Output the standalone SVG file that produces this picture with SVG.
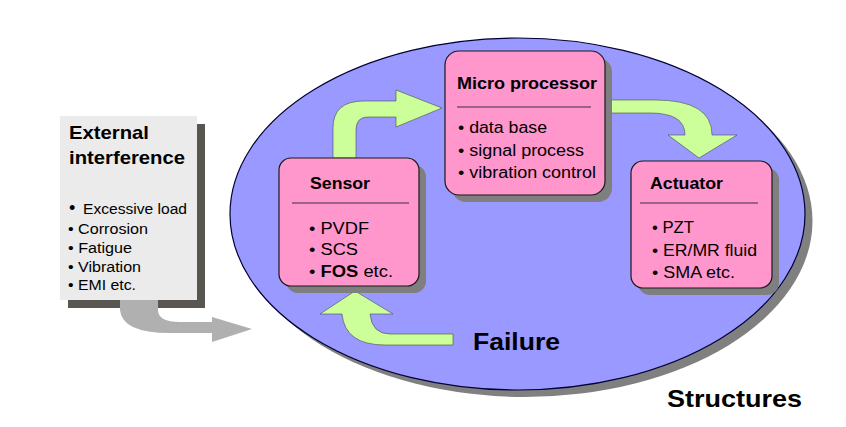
<svg xmlns="http://www.w3.org/2000/svg" width="846" height="427" viewBox="0 0 846 427">
<style>
text{font-family:"Liberation Sans",Arial,sans-serif;fill:#000;}
.t{font-weight:bold;font-size:16px;}
.b{font-size:16px;}
.eb{font-size:14px;}
.et{font-weight:bold;font-size:18.5px;}
.big{font-weight:bold;font-size:24px;}
.box{fill:#ff96cc;stroke:#1a1a1a;stroke-width:1.2;}
.sh{fill:#7f7f7f;}
.div{stroke:#333;stroke-width:1;}
.garr{fill:#ccff99;stroke:#4a4a4a;stroke-width:0.6;}
</style>
<rect width="846" height="427" fill="#fff"/>
<g id="structures">
<ellipse cx="525" cy="221" rx="287.5" ry="176" fill="#808080"/>
<ellipse cx="517.5" cy="214" rx="287.5" ry="176" fill="#9999ff" stroke="#000033" stroke-width="1.2"/>
<text class="big" x="667" y="407" textLength="135" lengthAdjust="spacingAndGlyphs">Structures</text>
</g>
<g id="external">
<rect x="68" y="124" width="137" height="184" fill="#595550"/>
<rect x="60" y="116" width="137" height="184" fill="#ebebeb"/>
<text class="et" x="69" y="139" textLength="80" lengthAdjust="spacingAndGlyphs">External</text>
<text class="et" x="69" y="164" textLength="116" lengthAdjust="spacingAndGlyphs">interference</text>
<text class="eb" x="69" y="214"><tspan font-size="18">•</tspan><tspan x="83" textLength="104" lengthAdjust="spacingAndGlyphs">Excessive load</tspan></text>
<text class="eb" x="68" y="234" textLength="80" lengthAdjust="spacingAndGlyphs">• Corrosion</text>
<text class="eb" x="68" y="253" textLength="64" lengthAdjust="spacingAndGlyphs">• Fatigue</text>
<text class="eb" x="68" y="272" textLength="73" lengthAdjust="spacingAndGlyphs">• Vibration</text>
<text class="eb" x="68" y="290" textLength="68" lengthAdjust="spacingAndGlyphs">• EMI etc.</text>
</g>
<g id="connectors">
<path d="M120,300 L120,310 Q122,333 170,333 L212,333 L212,342 L252,329 L212,317 L212,322 L180,322 Q158,322 158,310 L158,300 Z" fill="#b0b0b0"/>
<path class="garr" d="M333,158 L333,128 Q333,101 364,101 L396,101 L396,90 L442,108 L396,127 L396,117 L368,117 Q356,117 356,130 L356,158 Z"/>
<path class="garr" d="M605,100 L655,100 Q712,100 712,135 L737,135 L699,158 L668,135 L685,135 Q685,113 650,113 L605,113 Z"/>
<path class="garr" d="M453,334 L390,334 Q372,334 370,314 L393,314 L355,291 L320,314 L342,314 Q345,345 385,345 L453,345 Z"/>
</g>
<g id="failure">
<text class="big" x="473" y="350" textLength="87" lengthAdjust="spacingAndGlyphs">Failure</text>
</g>
<g id="sensor">
<rect class="sh" x="286" y="165" width="140" height="128" rx="12"/>
<rect class="box" x="279" y="158" width="140" height="128" rx="12"/>
<text class="t" x="310" y="189" textLength="60" lengthAdjust="spacingAndGlyphs">Sensor</text>
<line class="div" x1="292" y1="203" x2="409" y2="203"/>
<text class="b" x="309" y="234" textLength="60" lengthAdjust="spacingAndGlyphs">• PVDF</text>
<text class="b" x="309" y="255" textLength="49" lengthAdjust="spacingAndGlyphs">• SCS</text>
<text class="b" x="309" y="277" textLength="84" lengthAdjust="spacingAndGlyphs">• <tspan font-weight="bold">FOS</tspan> etc.</text>
</g>
<g id="microprocessor">
<rect class="sh" x="452" y="58" width="160" height="144" rx="14"/>
<rect class="box" x="445" y="51" width="160" height="144" rx="14"/>
<text class="t" x="457" y="89" textLength="140" lengthAdjust="spacingAndGlyphs">Micro processor</text>
<line class="div" x1="457" y1="107" x2="591" y2="107"/>
<text class="b" x="458" y="133" textLength="89" lengthAdjust="spacingAndGlyphs">• data base</text>
<text class="b" x="458" y="156" textLength="126" lengthAdjust="spacingAndGlyphs">• signal process</text>
<text class="b" x="458" y="178" textLength="138" lengthAdjust="spacingAndGlyphs">• vibration control</text>
</g>
<g id="actuator">
<rect class="sh" x="638" y="168" width="141" height="127" rx="12"/>
<rect class="box" x="631" y="161" width="141" height="127" rx="12"/>
<text class="t" x="650" y="189" textLength="73" lengthAdjust="spacingAndGlyphs">Actuator</text>
<line class="div" x1="640" y1="203" x2="758" y2="203"/>
<text class="b" x="652" y="233" textLength="42" lengthAdjust="spacingAndGlyphs">• PZT</text>
<text class="b" x="652" y="256" textLength="105" lengthAdjust="spacingAndGlyphs">• ER/MR fluid</text>
<text class="b" x="652" y="278" textLength="83" lengthAdjust="spacingAndGlyphs">• SMA etc.</text>
</g>
</svg>
